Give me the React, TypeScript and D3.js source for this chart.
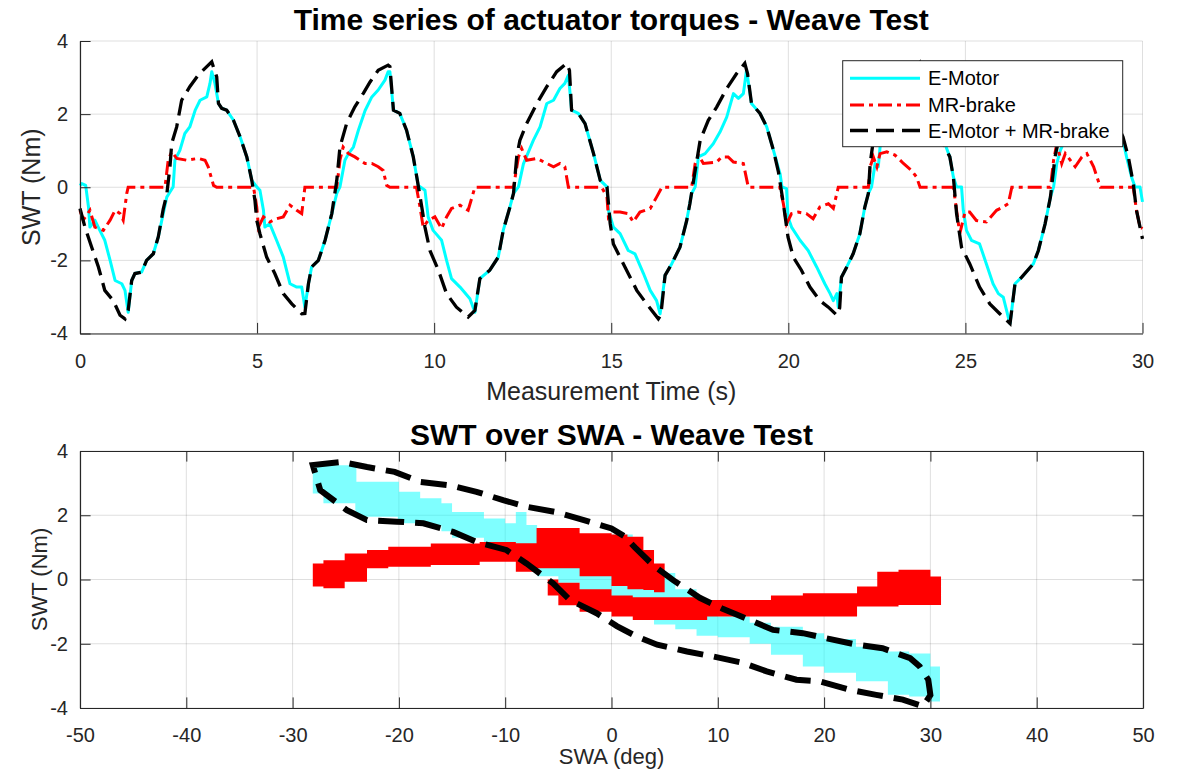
import React, { useEffect, useRef } from "react";
import * as d3 from "d3";

// ---- top panel: actuator torques over time ----
const motorT = [0, 0.05, 0.16, 0.24, 0.28, 0.42, 0.56, 0.7, 0.85, 0.99, 1.18, 1.27, 1.36, 1.46, 1.55, 1.74, 1.88, 2.07, 2.21, 2.35, 2.45, 2.54, 2.63, 2.68, 2.82, 2.96, 3.1, 3.25, 3.39, 3.58, 3.67, 3.72, 3.81, 3.91, 4.0, 4.14, 4.33, 4.52, 4.71, 4.85, 4.99, 5.08, 5.18, 5.22, 5.36, 5.55, 5.74, 5.93, 6.12, 6.26, 6.35, 6.45, 6.54, 6.73, 6.92, 7.11, 7.25, 7.34, 7.48, 7.58, 7.72, 7.86, 8.05, 8.24, 8.42, 8.61, 8.7, 8.75, 8.85, 9.03, 9.22, 9.41, 9.55, 9.74, 9.83, 9.97, 10.21, 10.35, 10.49, 10.73, 11.01, 11.15, 11.29, 11.57, 11.81, 11.95, 12.14, 12.24, 12.38, 12.52, 12.8, 12.99, 13.18, 13.37, 13.55, 13.69, 13.79, 13.88, 14.07, 14.26, 14.5, 14.69, 14.88, 14.92, 15.06, 15.25, 15.48, 15.67, 15.91, 16.1, 16.28, 16.38, 16.52, 16.71, 16.94, 17.13, 17.27, 17.37, 17.46, 17.65, 17.88, 18.07, 18.26, 18.45, 18.59, 18.73, 18.82, 18.96, 19.2, 19.39, 19.58, 19.77, 19.82, 19.95, 19.99, 20.09, 20.33, 20.56, 20.8, 21.03, 21.18, 21.27, 21.37, 21.41, 21.5, 21.65, 21.83, 22.02, 22.16, 22.26, 22.35, 22.45, 22.54, 22.59, 22.8, 23.0, 23.25, 23.5, 23.7, 23.8, 24.0, 24.2, 24.42, 24.56, 24.66, 24.75, 24.89, 24.94, 25.03, 25.17, 25.4, 25.59, 25.78, 25.93, 26.07, 26.21, 26.26, 26.4, 26.59, 26.92, 27.06, 27.25, 27.4, 27.49, 27.58, 27.68, 27.9, 28.1, 28.4, 28.6, 28.75, 28.85, 29.1, 29.3, 29.45, 29.55, 29.69, 29.79, 29.93, 30.0];
const motorV = [0.05, 0.1, 0.05, -0.54, -1.09, -0.9, -1.18, -1.45, -2.0, -2.55, -2.64, -2.82, -3.42, -2.55, -2.36, -2.32, -2.0, -1.82, -1.36, -0.72, -0.27, -0.13, 0.01, 0.74, 1.01, 1.47, 1.65, 2.1, 2.38, 2.47, 2.84, 3.16, 2.84, 2.29, 2.16, 2.11, 1.84, 1.38, 0.83, 0.19, 0.01, -0.08, -0.63, -1.09, -1.0, -1.45, -1.91, -2.64, -2.73, -2.73, -3.28, -2.64, -2.18, -2.0, -1.45, -0.72, -0.17, 0.01, 0.74, 0.92, 1.1, 1.56, 2.1, 2.47, 2.66, 2.93, 3.16, 3.16, 2.11, 2.02, 1.56, 0.83, 0.05, -0.08, -0.81, -1.18, -1.45, -2.0, -2.5, -2.73, -3.05, -3.42, -2.5, -2.27, -1.91, -1.18, -0.54, -0.17, 0.01, 0.64, 1.28, 1.65, 2.29, 2.38, 2.7, 2.84, 3.07, 2.11, 2.02, 1.74, 0.92, 0.19, 0.01, -0.63, -1.09, -1.27, -1.73, -1.82, -2.36, -2.82, -3.1, -3.46, -2.41, -2.09, -1.64, -0.91, -0.17, 0.01, 0.83, 0.92, 1.19, 1.51, 1.92, 2.56, 2.43, 2.56, 3.2, 2.29, 2.02, 1.65, 1.01, 0.35, 0.01, -0.04, -0.81, -1.09, -1.45, -1.73, -2.18, -2.64, -2.91, -3.1, -2.91, -3.28, -2.46, -2.18, -1.82, -1.27, -0.54, -0.17, 0.01, 0.65, 0.56, 1.1, 1.5, 1.9, 2.3, 2.6, 3.1, 2.2, 2.05, 1.75, 1.19, 0.83, 0.28, 0.01, 0.01, -0.63, -1.18, -1.45, -1.55, -2.09, -2.64, -2.91, -3.01, -3.55, -3.73, -2.64, -2.46, -2.09, -1.73, -1.0, -0.27, 0.01, 0.65, 1.01, 1.5, 1.9, 2.3, 2.7, 3.1, 2.2, 2.0, 1.7, 1.28, 0.83, 0.28, 0.01, 0.01, -0.4];

const brakeT = [0, 0.09, 0.28, 0.42, 0.66, 0.85, 0.99, 1.13, 1.22, 1.32, 1.36, 2.4, 2.49, 2.59, 2.73, 3.01, 3.34, 3.53, 3.62, 3.77, 3.86, 4.9, 4.99, 5.04, 5.18, 5.36, 5.55, 5.74, 5.93, 6.12, 6.26, 6.35, 7.25, 7.34, 7.43, 7.58, 7.76, 8.05, 8.24, 8.42, 8.56, 8.66, 8.75, 9.5, 9.6, 9.69, 9.83, 10.02, 10.21, 10.35, 10.49, 10.73, 10.96, 11.15, 12.24, 12.38, 12.47, 12.61, 12.9, 13.18, 13.37, 13.55, 13.69, 13.79, 14.73, 14.88, 14.92, 15.02, 15.25, 15.48, 15.62, 15.81, 16.1, 16.28, 16.43, 17.27, 17.37, 17.46, 17.6, 17.98, 18.12, 18.3, 18.45, 18.73, 18.87, 19.76, 19.86, 19.95, 20.09, 20.28, 20.51, 20.7, 20.89, 21.13, 21.27, 21.41, 22.26, 22.31, 22.4, 22.5, 22.59, 22.78, 23.01, 23.25, 23.48, 23.62, 23.72, 24.66, 24.75, 24.84, 24.99, 25.12, 25.31, 25.59, 25.88, 26.07, 26.21, 26.31, 27.4, 27.49, 27.58, 27.72, 27.82, 27.96, 28.1, 28.29, 28.43, 28.62, 28.81, 29.74, 29.83, 29.93, 30.0];
const brakeV = [-0.63, -0.9, -0.63, -1.09, -1.18, -0.9, -0.63, -0.72, -0.9, -0.17, 0, 0, 0.74, 0.97, 0.79, 0.74, 0.79, 0.74, 0.56, 0.05, 0, 0, -0.54, -1.09, -0.81, -0.95, -0.86, -0.81, -0.49, -0.63, -0.72, 0, 0, 0.74, 1.1, 0.92, 0.83, 0.65, 0.65, 0.56, 0.46, 0.05, 0, 0, -0.54, -1.09, -0.91, -0.81, -1.13, -0.81, -0.58, -0.49, -0.63, 0, 0, 0.83, 1.06, 0.74, 0.79, 0.65, 0.56, 0.65, 0.56, 0, 0, -0.27, -0.81, -0.68, -0.68, -0.72, -0.95, -0.68, -0.58, -0.27, 0, 0, 0.65, 0.88, 0.65, 0.69, 0.83, 0.83, 0.69, 0.65, 0, 0, -0.45, -1.0, -0.72, -0.68, -0.72, -0.86, -0.54, -0.45, -0.58, 0, 0, 0.56, 0.83, 0.56, 0.92, 0.97, 0.88, 0.65, 0.46, 0.28, 0, 0, -0.63, -1.27, -0.68, -0.68, -0.91, -0.95, -0.63, -0.54, -0.45, 0, 0, 0.74, 1.19, 0.65, 0.92, 0.74, 0.56, 0.83, 0.92, 0.56, 0, 0, -0.63, -1.09, -1.13];

const totalT = [0, 0.14, 0.33, 0.52, 0.7, 0.94, 1.13, 1.27, 1.36, 1.46, 1.55, 1.74, 1.88, 2.07, 2.21, 2.35, 2.45, 2.54, 2.59, 2.73, 2.87, 3.1, 3.34, 3.58, 3.72, 3.86, 3.91, 4.0, 4.14, 4.33, 4.52, 4.71, 4.85, 4.94, 4.99, 5.08, 5.27, 5.5, 5.74, 5.98, 6.26, 6.35, 6.45, 6.54, 6.73, 6.92, 7.11, 7.25, 7.34, 7.53, 7.76, 8.0, 8.19, 8.42, 8.7, 8.75, 8.85, 9.03, 9.22, 9.41, 9.55, 9.65, 9.74, 9.88, 10.12, 10.35, 10.63, 10.96, 11.15, 11.29, 11.57, 11.81, 11.95, 12.14, 12.24, 12.33, 12.42, 12.61, 12.9, 13.18, 13.46, 13.74, 13.82, 13.88, 14.07, 14.26, 14.5, 14.69, 14.88, 14.97, 15.06, 15.34, 15.72, 16.0, 16.33, 16.4, 16.52, 16.71, 16.94, 17.13, 17.22, 17.37, 17.51, 17.74, 17.98, 18.26, 18.54, 18.77, 18.85, 18.96, 19.2, 19.39, 19.58, 19.72, 19.86, 19.99, 20.14, 20.37, 20.61, 20.89, 21.13, 21.37, 21.45, 21.5, 21.65, 21.83, 22.02, 22.16, 22.26, 22.31, 22.4, 22.6, 22.9, 23.2, 23.5, 23.7, 23.8, 24.0, 24.2, 24.37, 24.56, 24.66, 24.75, 24.89, 25.12, 25.4, 25.69, 25.97, 26.26, 26.4, 26.59, 26.92, 27.06, 27.25, 27.4, 27.53, 27.63, 27.85, 28.1, 28.4, 28.6, 28.75, 28.85, 29.1, 29.3, 29.45, 29.6, 29.74, 29.83, 29.93, 30.0];
const totalV = [-0.58, -1.09, -1.64, -2.18, -2.82, -3.1, -3.5, -3.6, -3.37, -2.55, -2.36, -2.32, -2.0, -1.82, -1.36, -0.6, -0.2, 0.56, 1.2, 1.65, 2.38, 2.75, 3.07, 3.3, 3.43, 3.02, 2.29, 2.16, 2.11, 1.84, 1.38, 0.83, 0.19, -0.36, -0.9, -1.27, -1.91, -2.36, -2.91, -3.19, -3.46, -3.45, -2.64, -2.18, -2.0, -1.45, -0.72, 0.19, 1.1, 1.75, 2.2, 2.57, 2.88, 3.2, 3.34, 3.3, 2.11, 2.02, 1.56, 0.83, 0.05, -0.54, -1.09, -1.73, -2.27, -2.91, -3.28, -3.55, -3.37, -2.5, -2.27, -1.91, -1.18, -0.54, -0.17, 0.83, 1.28, 1.74, 2.29, 2.75, 3.16, 3.39, 3.2, 2.11, 2.02, 1.74, 0.92, 0.19, 0.01, -0.99, -1.55, -2.09, -2.82, -3.19, -3.6, -3.5, -2.41, -2.09, -1.64, -0.91, -0.45, 0.46, 1.28, 1.83, 2.2, 2.7, 3.11, 3.39, 3.1, 2.29, 2.02, 1.65, 1.01, 0.42, -0.45, -1.36, -1.91, -2.27, -2.73, -3.1, -3.28, -3.5, -3.3, -2.46, -2.18, -1.82, -1.27, -0.54, -0.17, 0.65, 1.28, 1.9, 2.5, 2.9, 3.2, 3.4, 2.2, 2.05, 1.75, 1.19, 0.83, 0.28, -0.72, -1.64, -2.09, -2.73, -3.19, -3.46, -3.73, -2.64, -2.46, -2.09, -1.73, -1.0, -0.27, 0.83, 1.28, 1.9, 2.4, 2.9, 3.2, 3.4, 2.2, 2.0, 1.7, 1.37, 0.83, 0.1, -0.63, -1.09, -1.41];

const timeTicks = [0, 5, 10, 15, 20, 25, 30];
const torqueTicks = [-4, -2, 0, 2, 4];

// ---- bottom panel: SWT over SWA (bands are upper / lower edges per SWA step) ----
const cyanSwa = [-28.1, -27.1, -24.1, -24.0, -20.1, -20.0, -18, -16, -15, -12, -10, -9, -8, -7, -5, -3, 0, 2, 4, 6, 8, 10, 13, 15, 18, 20, 23, 26, 28, 30, 30.9];
const cyanHi = [3.56, 3.56, 3.5, 3.04, 3.04, 2.73, 2.53, 2.37, 2.1, 1.9, 1.75, 2.1, 1.7, 1.6, 1.3, 1.2, 1.4, 0.9, 0.2, -0.3, -1.0, -1.15, -1.35, -1.47, -1.67, -1.85, -2.09, -2.24, -2.3, -2.71, -3.53];
const cyanLo = [2.68, 2.37, 2.0, 1.95, 1.78, 1.75, 1.68, 1.5, 1.3, 1.12, 1.0, 0.9, 0.5, 0.1, -0.1, -0.35, -0.6, -1.0, -1.4, -1.55, -1.75, -1.8, -2.0, -2.34, -2.71, -2.9, -3.17, -3.59, -3.64, -3.8, -3.8];

const redUpSwa = [-28.1, -27.1, -25.1, -23, -21, -17, -12.4, -9, -7.05, -3, 0, 1.5, 3, 4, 5];
const redUpHi = [0.5, 0.6, 0.81, 0.92, 1.02, 1.12, 1.17, 1.13, 1.6, 1.44, 1.4, 1.33, 0.92, 0.5, 0.0];
const redUpLo = [-0.22, -0.27, -0.07, 0.35, 0.4, 0.45, 0.55, 0.24, 0.35, 0.1, -0.2, -0.3, -0.33, -0.4, -0.6];

const redLowSwa = [-6, -5, -3, 0, 2, 8, 9, 15, 18, 23.1, 25, 27, 30, 31];
const redLowHi = [0.0, -0.1, -0.3, -0.5, -0.55, -0.6, -0.64, -0.5, -0.43, -0.22, 0.24, 0.3, 0.09, 0.09];
const redLowLo = [-0.5, -0.8, -1.0, -1.15, -1.26, -1.26, -1.15, -1.15, -1.15, -0.84, -0.84, -0.79, -0.79, -0.17];

// closed loop of the summed torque, clockwise from the upper-left corner
const loopSwa = [-28.1, -25.4, -23.0, -20.4, -18, -15.2, -12.7, -10.2, -7.9, -5.2, -2.6, 0, 1.2, 2.2, 3.9, 5.8, 8.3, 10.4, 13.0, 15.2, 18.0, 20.2, 23.1, 25.5, 28.1, 29.0, 29.8, 30.0, 29.3, 27.4, 24.9, 22.4, 19.6, 17.4, 14.6, 12.4, 9.6, 7.1, 4.3, 2.4, 0.5, -1.4, -3.9, -5.5, -8.0, -9.9, -12.7, -14.9, -17.7, -20.2, -23.0, -24.9, -27.4];
const loopSwt = [3.56, 3.66, 3.5, 3.35, 3.04, 2.93, 2.73, 2.47, 2.26, 2.1, 1.85, 1.59, 1.35, 1.0, 0.45, -0.02, -0.57, -0.9, -1.26, -1.57, -1.67, -1.83, -2.03, -2.14, -2.45, -2.71, -3.12, -3.6, -3.95, -3.74, -3.59, -3.43, -3.17, -3.12, -2.86, -2.6, -2.4, -2.24, -2.03, -1.78, -1.45, -1.05, -0.64, -0.12, 0.5, 0.92, 1.17, 1.48, 1.75, 1.8, 1.85, 2.16, 2.78];

const swaTicks = [-50, -40, -30, -20, -10, 0, 10, 20, 30, 40, 50];

const legendLabels = ["E-Motor", "MR-brake", "E-Motor + MR-brake"];

const FONT = "'Liberation Sans', Arial, Helvetica, sans-serif";
const AXIS = "#262626";
const CYAN = "#00ffff";
const RED = "#ff0000";

// MATLAB prints a plain hyphen, not the unicode minus d3 uses
const plain = (d: any) => String(d);

const App = () => {
    const svgRef = useRef<SVGSVGElement>(null);

    useEffect(() => {
        const svg = d3.select(svgRef.current);
        svg.selectAll("*").remove();
        svg.append("rect").attr("width", 1184).attr("height", 772).attr("fill", "#fff");
        drawTimeSeries(svg);
        drawSwtOverSwa(svg);
    }, []);

    const styleAxis = (g: any, size: number) => {
        g.attr("font-family", FONT).attr("font-size", size);
        g.selectAll("path.domain").attr("stroke", AXIS).attr("stroke-width", 1.2);
        g.selectAll(".tick line").attr("stroke", AXIS).attr("stroke-width", 1);
        g.selectAll(".tick text").attr("fill", AXIS);
    };

    const drawGrid = (g: any, x: any, y: any, xt: number[], yt: number[]) => {
        const [x0, x1] = x.range();
        const [y0, y1] = y.range();
        g.selectAll(".gx").data(xt).enter().append("line")
            .attr("x1", (d: number) => x(d)).attr("x2", (d: number) => x(d))
            .attr("y1", y0).attr("y2", y1)
            .attr("stroke", AXIS).attr("stroke-opacity", 0.15);
        g.selectAll(".gy").data(yt).enter().append("line")
            .attr("y1", (d: number) => y(d)).attr("y2", (d: number) => y(d))
            .attr("x1", x0).attr("x2", x1)
            .attr("stroke", AXIS).attr("stroke-opacity", 0.15);
    };

    const drawTimeSeries = (svg: any) => {
        const left = 80, right = 1142.5, top = 41, bottom = 333.5;
        const x = d3.scaleLinear().domain([0, 30]).range([left, right]);
        const y = d3.scaleLinear().domain([-4, 4]).range([bottom, top]);
        const g = svg.append("g");

        drawGrid(g, x, y, timeTicks, torqueTicks);

        const path = (ts: number[], vs: number[]) =>
            d3.line<number>().x((d, i) => x(ts[i])).y(d => y(d))(vs);

        g.append("path").attr("d", path(motorT, motorV))
            .attr("fill", "none").attr("stroke", CYAN).attr("stroke-width", 3).attr("stroke-linejoin", "round");
        g.append("path").attr("d", path(brakeT, brakeV))
            .attr("fill", "none").attr("stroke", RED).attr("stroke-width", 3)
            .attr("stroke-dasharray", "14 5 4 5");
        g.append("path").attr("d", path(totalT, totalV))
            .attr("fill", "none").attr("stroke", "#000").attr("stroke-width", 3.3)
            .attr("stroke-dasharray", "18 8");

        g.append("g").attr("transform", `translate(0,${bottom})`)
            .call(d3.axisBottom(x).tickValues(timeTicks).tickFormat(plain).tickSizeInner(-10.6).tickSizeOuter(0).tickPadding(20))
            .call((a: any) => styleAxis(a, 20));
        g.append("g").attr("transform", `translate(${left},0)`)
            .call(d3.axisLeft(y).tickValues(torqueTicks).tickFormat(plain).tickSizeInner(-10.6).tickSizeOuter(0).tickPadding(12))
            .call((a: any) => styleAxis(a, 20));

        // legend
        const lx = 842.7, ly = 60.7;
        const lg = g.append("g");
        lg.append("rect").attr("x", lx).attr("y", ly).attr("width", 280).attr("height", 86)
            .attr("fill", "#fff").attr("stroke", AXIS).attr("stroke-width", 1);
        const rows = [78.3, 105, 130.5];
        const styles = [
            { stroke: CYAN, dash: null, w: 3 },
            { stroke: RED, dash: "14 5 4 5", w: 3 },
            { stroke: "#000", dash: "18 8", w: 3.3 },
        ];
        legendLabels.forEach((label, i) => {
            lg.append("line").attr("x1", 850).attr("x2", 920).attr("y1", rows[i]).attr("y2", rows[i])
                .attr("stroke", styles[i].stroke).attr("stroke-width", styles[i].w)
                .attr("stroke-dasharray", styles[i].dash);
            lg.append("text").attr("x", 928).attr("y", rows[i]).attr("dy", "0.35em")
                .attr("font-family", FONT).attr("font-size", 20).attr("fill", "#000").text(label);
        });

        svg.append("text").attr("x", (left + right) / 2).attr("y", 30).attr("text-anchor", "middle")
            .attr("font-family", FONT).attr("font-size", 30).attr("font-weight", "bold").attr("fill", "#000")
            .text("Time series of actuator torques - Weave Test");
        svg.append("text").attr("x", (left + right) / 2).attr("y", 400).attr("text-anchor", "middle")
            .attr("font-family", FONT).attr("font-size", 25).attr("fill", AXIS)
            .text("Measurement Time (s)");
        svg.append("text").attr("transform", `translate(40,${(top + bottom) / 2}) rotate(-90)`).attr("text-anchor", "middle")
            .attr("font-family", FONT).attr("font-size", 25).attr("fill", AXIS)
            .text("SWT (Nm)");
    };

    const drawSwtOverSwa = (svg: any) => {
        const left = 80, right = 1143, top = 451, bottom = 708;
        const x = d3.scaleLinear().domain([-50, 50]).range([left, right]);
        const y = d3.scaleLinear().domain([-4, 4]).range([bottom, top]);
        const g = svg.append("g");

        drawGrid(g, x, y, swaTicks, torqueTicks);

        const band = (xs: number[], hi: number[], lo: number[]) =>
            d3.area<number>().curve(d3.curveStepAfter)
                .x((d, i) => x(xs[i])).y0((d, i) => y(lo[i])).y1(d => y(d))(hi);

        g.append("path").attr("d", band(cyanSwa, cyanHi, cyanLo)).attr("fill", CYAN).attr("fill-opacity", 0.5);
        g.append("path").attr("d", band(redUpSwa, redUpHi, redUpLo)).attr("fill", RED);
        g.append("path").attr("d", band(redLowSwa, redLowHi, redLowLo)).attr("fill", RED);

        const loop = d3.line<number>().curve(d3.curveLinearClosed)
            .x((d, i) => x(loopSwa[i])).y(d => y(d));
        g.append("path").attr("d", loop(loopSwt))
            .attr("fill", "none").attr("stroke", "#000").attr("stroke-width", 6)
            .attr("stroke-dasharray", "26 11");

        g.append("g").attr("transform", `translate(0,${bottom})`)
            .call(d3.axisBottom(x).tickValues(swaTicks).tickFormat(plain).tickSizeInner(-10.6).tickSizeOuter(0).tickPadding(20))
            .call((a: any) => styleAxis(a, 20));
        g.append("g").attr("transform", `translate(0,${top})`)
            .call(d3.axisTop(x).tickValues(swaTicks).tickSizeInner(-10.6).tickSizeOuter(0).tickFormat(() => ""))
            .call((a: any) => styleAxis(a, 20));
        g.append("g").attr("transform", `translate(${left},0)`)
            .call(d3.axisLeft(y).tickValues(torqueTicks).tickFormat(plain).tickSizeInner(-10.6).tickSizeOuter(0).tickPadding(12))
            .call((a: any) => styleAxis(a, 20));
        g.append("g").attr("transform", `translate(${right},0)`)
            .call(d3.axisRight(y).tickValues(torqueTicks).tickSizeInner(-10.6).tickSizeOuter(0).tickFormat(() => ""))
            .call((a: any) => styleAxis(a, 20));

        svg.append("text").attr("x", (left + right) / 2).attr("y", 445).attr("text-anchor", "middle")
            .attr("font-family", FONT).attr("font-size", 30).attr("font-weight", "bold").attr("fill", "#000")
            .text("SWT over SWA - Weave Test");
        svg.append("text").attr("x", (left + right) / 2).attr("y", 764).attr("text-anchor", "middle")
            .attr("font-family", FONT).attr("font-size", 22).attr("fill", AXIS)
            .text("SWA (deg)");
        svg.append("text").attr("transform", `translate(47,${(top + bottom) / 2}) rotate(-90)`).attr("text-anchor", "middle")
            .attr("font-family", FONT).attr("font-size", 22).attr("fill", AXIS)
            .text("SWT (Nm)");
    };

    return (
        <svg ref={svgRef} width={1184} height={772} style={{ position: "absolute", left: 0, top: 0 }} />
    );
};

export default App;
